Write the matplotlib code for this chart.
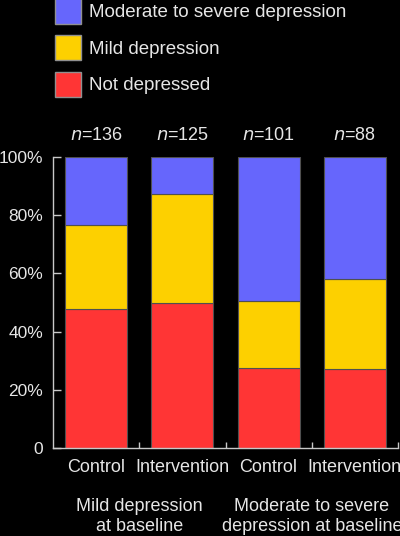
import matplotlib
matplotlib.use("Agg")
import matplotlib.pyplot as plt
from matplotlib.patches import Patch

# data (percent of patients)
groups = ["Control", "Intervention", "Control", "Intervention"]
n_labels = ["136", "125", "101", "88"]
not_depressed = [47.8, 49.7, 27.6, 27.3]
mild = [28.8, 37.6, 22.9, 30.7]
moderate = [23.4, 12.7, 49.5, 42.0]
baseline_labels = ["Mild depression\nat baseline", "Moderate to severe\ndepression at baseline"]
yticks = [0, 20, 40, 60, 80, 100]
ytick_labels = ["0", "20%", "40%", "60%", "80%", "100%"]

red = "#ff3535"
yellow = "#fdd000"
blue = "#6666fc"
txt = "#e6e6e6"

plt.rcParams["font.family"] = ["Liberation Sans", "DejaVu Sans"]

fig = plt.figure(figsize=(4.0, 5.36), dpi=100, facecolor="black")
ax = fig.add_axes([53 / 400, 88 / 536, 345 / 400, 291 / 536])
ax.set_facecolor("black")

x = list(range(len(groups)))
bottom2 = [a + b for a, b in zip(not_depressed, mild)]
ax.bar(x, not_depressed, width=0.72, color=red, edgecolor="#505050", linewidth=0.8)
ax.bar(x, mild, width=0.72, bottom=not_depressed, color=yellow, edgecolor="#505050", linewidth=0.8)
ax.bar(x, moderate, width=0.72, bottom=bottom2, color=blue, edgecolor="#505050", linewidth=0.8)

ax.set_xlim(-0.5, 3.5)
ax.set_ylim(0, 100)

for s in ["top", "right"]:
    ax.spines[s].set_visible(False)
for s in ["left", "bottom"]:
    ax.spines[s].set_color("#c8c8c8")
    ax.spines[s].set_linewidth(1.0)

ax.set_yticks(yticks)
ax.set_yticklabels(ytick_labels)
ax.tick_params(axis="y", direction="in", length=6, width=1, color="#c8c8c8",
               labelcolor=txt, labelsize=12.5, pad=7)
ax.set_xticks(x)
ax.set_xticklabels(groups)
ax.tick_params(axis="x", which="major", length=0, labelcolor=txt, labelsize=13, pad=8)
ax.set_xticks([0.5, 1.5, 2.5, 3.5], minor=True)
ax.tick_params(axis="x", which="minor", direction="in", length=4, width=1, color="#c8c8c8")

# n above each bar
for i, n in enumerate(n_labels):
    ax.annotate("$\\mathit{n}$=" + n, xy=(i, 100), xytext=(0, 9), textcoords="offset points",
                ha="center", va="bottom", color=txt, fontsize=13)

# baseline group labels
for xc, lab in zip([0.5, 2.5], baseline_labels):
    ax.annotate(lab, xy=(xc, 0), xycoords=("data", "axes fraction"),
                xytext=(0, -36), textcoords="offset points",
                ha="center", va="top", color=txt, fontsize=13, linespacing=1.25)

handles = [Patch(facecolor=blue, edgecolor="#909090", label="Moderate to severe depression"),
           Patch(facecolor=yellow, edgecolor="#909090", label="Mild depression"),
           Patch(facecolor=red, edgecolor="#909090", label="Not depressed")]
fig.legend(handles=handles, loc="upper left", bbox_to_anchor=(55 / 400, 1.003),
           frameon=False, fontsize=13.5, labelcolor=txt, borderpad=0, borderaxespad=0,
           handlelength=1.39, handleheight=1.7, labelspacing=0.6, handletextpad=0.4)

fig.savefig("out.png", dpi=100, facecolor="black")
